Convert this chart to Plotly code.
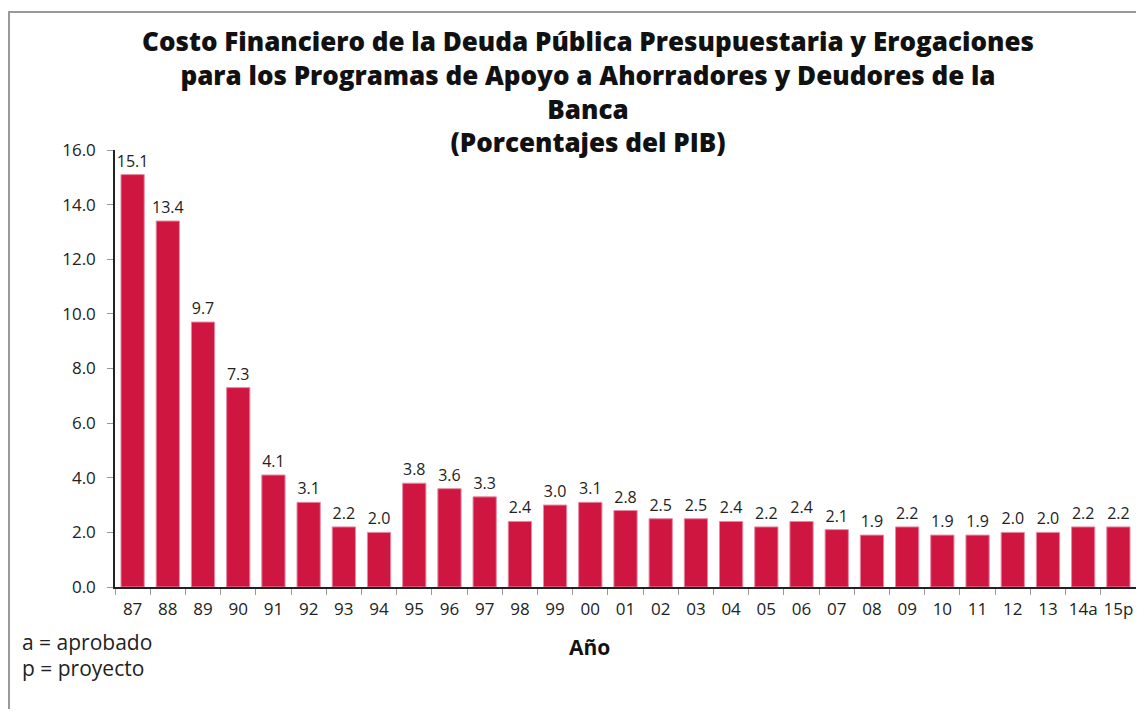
import plotly.graph_objects as go

categories = ["87", "88", "89", "90", "91", "92", "93", "94", "95", "96", "97", "98", "99", "00",
              "01", "02", "03", "04", "05", "06", "07", "08", "09", "10", "11", "12", "13", "14a", "15p"]
values = [15.1, 13.4, 9.7, 7.3, 4.1, 3.1, 2.2, 2.0, 3.8, 3.6, 3.3, 2.4, 3.0, 3.1,
          2.8, 2.5, 2.5, 2.4, 2.2, 2.4, 2.1, 1.9, 2.2, 1.9, 1.9, 2.0, 2.0, 2.2, 2.2]
y_ticks = [0, 2, 4, 6, 8, 10, 12, 14, 16]

FONT = "Open Sans"

fig = go.Figure()
fig.add_trace(go.Bar(
    x=categories, y=values,
    marker=dict(color="#CE1641", line=dict(color="#E58AA0", width=1)),
    text=[f"{v:.1f}" for v in values], textposition="outside",
    textfont=dict(family=FONT, size=16, color="#222"),
    constraintext="none",
    cliponaxis=False,
))

# page has an 8px body margin: figure coords = reference coords - 8
OFF = 8
W, H = 1128, 701
ml, mr, mt, mb = 115 - OFF, 0, 150 - OFF, H - (587 - OFF)
pw, ph = W - ml - mr, H - mt - mb

def px_x(x):
    return (x - OFF - ml) / pw

def px_y(y):
    return (H - mb - (y - OFF)) / ph

fig.update_layout(
    width=W, height=H,
    margin=dict(l=ml, r=mr, t=mt, b=mb, autoexpand=False),
    paper_bgcolor="white", plot_bgcolor="white",
    showlegend=False,
    bargap=0.34,
    title=dict(
        text="Costo Financiero de la Deuda Pública Presupuestaria y Erogaciones<br>"
             "para los Programas de Apoyo a Ahorradores y Deudores de la<br>"
             "Banca<br>(Porcentajes del PIB)",
        x=px_x(588), xref="paper", xanchor="center",
        y=(H - 43) / H, yanchor="top",
        font=dict(family=FONT, size=26, color="#111", weight=800),
    ),
    xaxis=dict(
        type="category", showline=True, linecolor="#222", linewidth=1.5,
        ticks="outside", tickson="boundaries", ticklen=6, tickcolor="#999",
        tickangle=0, automargin=False, ticklabelstandoff=6,
        tickfont=dict(family=FONT, size=17, color="#222"),
        showgrid=False, zeroline=False,
    ),
    yaxis=dict(
        range=[0, 16], tickvals=y_ticks, tickformat=".1f",
        showline=True, linecolor="#222", linewidth=1.5,
        ticks="outside", ticklen=6, tickcolor="#999", automargin=False,
        ticklabelstandoff=8,
        tickfont=dict(family=FONT, size=17, color="#222"),
        showgrid=False, zeroline=False,
    ),
    shapes=[dict(type="rect", xref="paper", yref="paper",
                 x0=px_x(9), x1=px_x(1170), y0=px_y(760), y1=px_y(12),
                 line=dict(color="#999", width=2), fillcolor="rgba(0,0,0,0)", layer="below")],
    annotations=[
        dict(text="<b>Año</b>", xref="paper", yref="paper", x=px_x(589), y=px_y(647),
             xanchor="center", yanchor="middle", showarrow=False,
             font=dict(family=FONT, size=21, color="#111")),
        dict(text="a = aprobado", xref="paper", yref="paper", x=px_x(20), y=px_y(642),
             xanchor="left", yanchor="middle", showarrow=False,
             font=dict(family=FONT, size=21, color="#222")),
        dict(text="p = proyecto", xref="paper", yref="paper", x=px_x(20), y=px_y(668),
             xanchor="left", yanchor="middle", showarrow=False,
             font=dict(family=FONT, size=21, color="#222")),
    ],
)

fig.write_html("out.html")
